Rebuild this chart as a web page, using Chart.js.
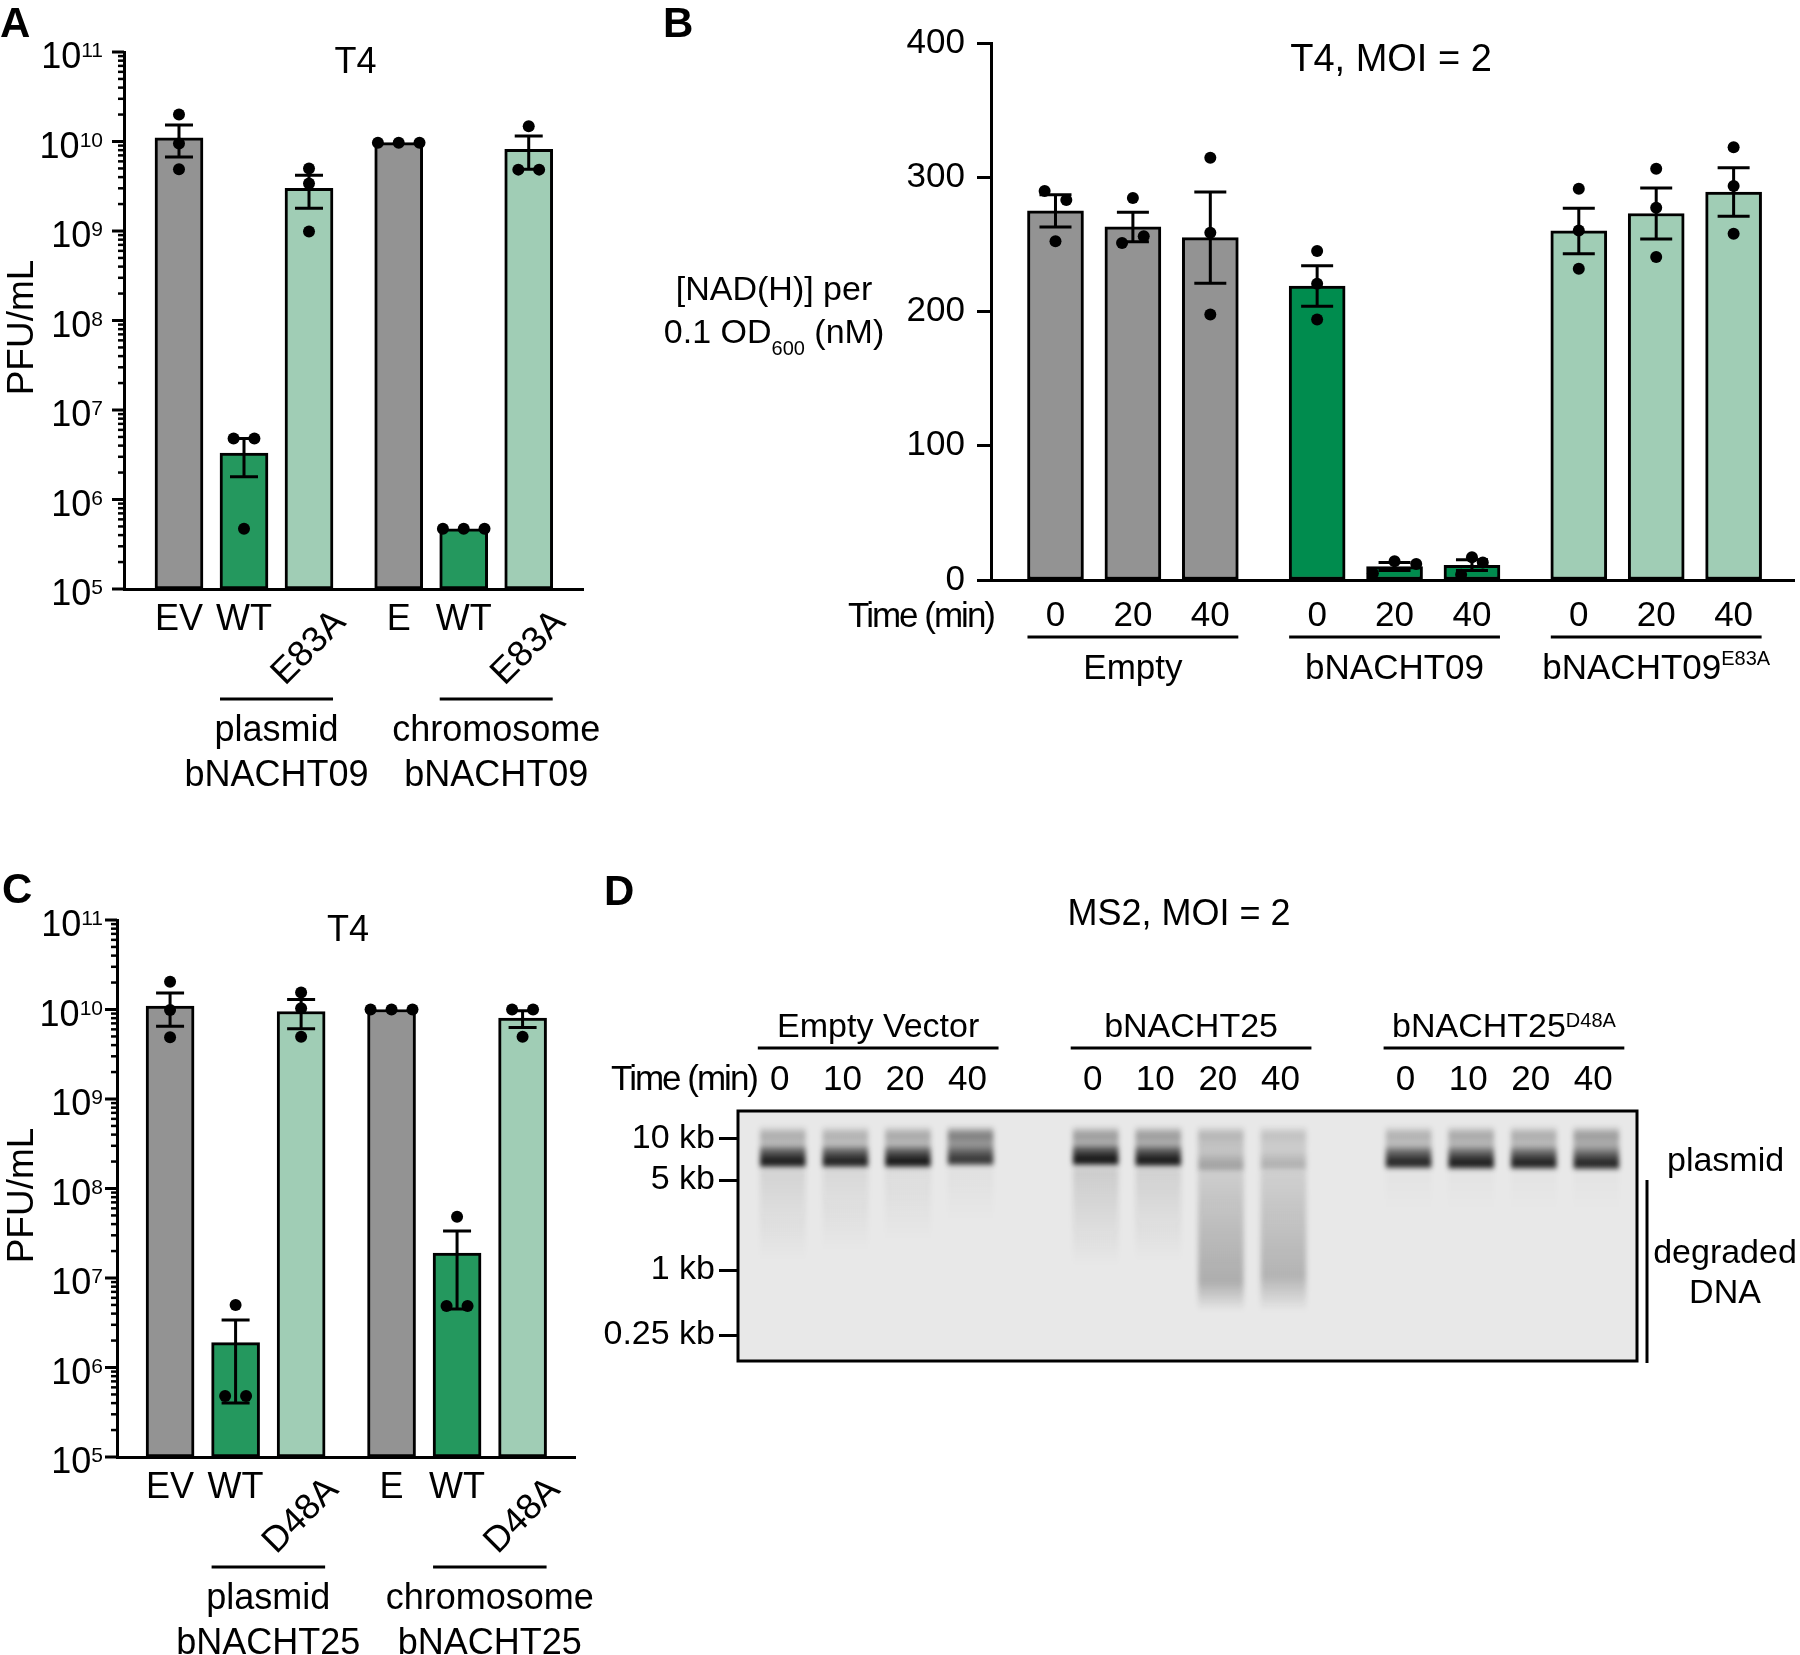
<!DOCTYPE html>
<html>
<head>
<meta charset="utf-8">
<script src="https://cdn.jsdelivr.net/npm/chart.js@4.4.0/dist/chart.umd.min.js"></script>
<style>
  html, body { margin: 0; padding: 0; background: #fff; }
  #fig { position: relative; width: 1800px; height: 1655px; overflow: hidden; background: #fff; }
  canvas { position: absolute; }
</style>
</head>
<body>
<div id="fig">
  <canvas id="panelA" width="640" height="800" style="left:0;top:0"></canvas>
  <canvas id="panelB" width="1160" height="700" style="left:640px;top:0"></canvas>
  <canvas id="panelC" width="620" height="785" style="left:0;top:870px"></canvas>
  <canvas id="panelD" width="1200" height="530" style="left:600px;top:870px"></canvas>
</div>
<script>
'use strict';

const FONT = '"Liberation Sans", Arial, Helvetica, sans-serif';
const GREY = '#939393';
const LIGHT_GREEN = '#a0cdb5';

// ===== PANEL A: T4 titers, bNACHT09 =====
const aLabels = ['EV', 'WT', 'E83A', 'E', 'WT', 'E83A'];
const aGroups = [['plasmid', 'bNACHT09'], ['chromosome', 'bNACHT09']];
const aMeans = [1.1e10, 3.3e6, 3.0e9, 9.7e9, 4.7e5, 8.2e9];
const aSem = [4.3e9, 1.5e6, 1.2e9, 0, 0, 3.3e9];
const aPoints = [
  [2.0e10, 9.5e9, 4.9e9],
  [4.8e6, 4.8e6, 4.7e5],
  [5.0e9, 3.4e9, 9.9e8],
  [9.7e9, 9.7e9, 9.7e9],
  [4.7e5, 4.7e5, 4.7e5],
  [1.48e10, 4.85e9, 4.85e9]
];

// ===== PANEL C: T4 titers, bNACHT25 =====
const cLabels = ['EV', 'WT', 'D48A', 'E', 'WT', 'D48A'];
const cGroups = [['plasmid', 'bNACHT25'], ['chromosome', 'bNACHT25']];
const cMeans = [1.09e10, 1.9e6, 9.5e9, 1.0e10, 1.9e7, 8.0e9];
const cSem = [4.4e9, 1.5e6, 3.4e9, 0, 1.45e7, 1.7e9];
const cPoints = [
  [2.04e10, 9.9e9, 4.9e9],
  [4.99e6, 4.8e5, 4.8e5],
  [1.55e10, 1.03e10, 4.97e9],
  [1.0e10, 1.0e10, 1.0e10],
  [4.84e7, 4.86e6, 4.86e6],
  [1.0e10, 1.0e10, 4.97e9]
];

const logExps = [5, 6, 7, 8, 9, 10, 11];

// ===== PANEL B: NAD(H) levels =====
const bGroups = ['Empty', 'bNACHT09', 'bNACHT09'];
const bGroupSup = ['', '', 'E83A'];
const bTimes = ['0', '20', '40'];
const bMeans = [275, 263, 255, 219, 10, 11, 260, 273, 289];
const bSem = [12, 11, 34, 15, 3, 4, 17, 19, 18];
const bPoints = [
  [289.7, 283.1, 252.4],
  [284.5, 251, 256],
  [314.5, 258.7, 197.7],
  [245, 220.7, 194],
  [5, 14, 12],
  [4, 17, 13],
  [291.4, 260.4, 231.9],
  [306.3, 277.3, 240.6],
  [322.4, 293.4, 258]
];
const bTicks = [0, 100, 200, 300, 400];

// ===== PANEL D: MS2 gel =====
const dGroups = ['Empty Vector', 'bNACHT25', 'bNACHT25'];
const dGroupSup = ['', '', 'D48A'];
const dTimes = ['0', '10', '20', '40'];
const ladderLabels = ['10 kb', '5 kb', '1 kb', '0.25 kb'];
const ladderMigration = [5.5, 13.8, 31.8, 44.8];
const upperBandMig = 4.9;
const mainBandMig = [10.2, 10.2, 10.2, 9.8, 9.8, 10.0, 11.0, 10.8, 10.4, 10.5, 10.5, 10.6];
const mainBandInt = [0.95, 0.92, 0.97, 0.82, 0.98, 0.96, 0.32, 0.25, 0.9, 0.94, 0.92, 0.9];
const upperBandInt = [0.28, 0.26, 0.3, 0.5, 0.36, 0.36, 0.24, 0.18, 0.26, 0.3, 0.28, 0.36];
const smearInt = [0.09, 0.07, 0.05, 0.03, 0.12, 0.1, 0.27, 0.24, 0.02, 0.02, 0.02, 0.02];
const smearPeakMig = [12, 12, 12, 12, 12, 12, 34, 33, 12, 12, 12, 12];
const smearEndMig = [30, 28, 26, 22, 31, 30, 40, 40, 20, 20, 20, 20];

// ---------- helpers ----------
function text(ctx, s, x, y, size, opt = {}) {
  ctx.save();
  ctx.font = `${opt.bold ? 'bold ' : ''}${size}px ${FONT}`;
  ctx.fillStyle = '#000';
  ctx.textAlign = opt.align || 'center';
  ctx.textBaseline = opt.baseline || 'alphabetic';
  if (opt.spacing) ctx.letterSpacing = opt.spacing + 'px';
  ctx.fillText(s, x, y);
  ctx.restore();
}

// parts: [{t, size, dy}]
function richText(ctx, parts, x, y, align) {
  ctx.save();
  const widths = parts.map(p => { ctx.font = `${p.size}px ${FONT}`; return ctx.measureText(p.t).width; });
  const total = widths.reduce((a, b) => a + b, 0);
  let cx = align === 'right' ? x - total : align === 'center' ? x - total / 2 : x;
  ctx.fillStyle = '#000';
  ctx.textAlign = 'left';
  ctx.textBaseline = 'alphabetic';
  parts.forEach((p, i) => {
    ctx.font = `${p.size}px ${FONT}`;
    ctx.fillText(p.t, cx, y + (p.dy || 0));
    cx += widths[i];
  });
  ctx.restore();
}

function line(ctx, x1, y1, x2, y2, w) {
  ctx.save();
  ctx.strokeStyle = '#000';
  ctx.lineWidth = w;
  ctx.beginPath();
  ctx.moveTo(x1, y1);
  ctx.lineTo(x2, y2);
  ctx.stroke();
  ctx.restore();
}

// bars in groups, with a wider gap between groups
function barPositions(n, per, gap) {
  return Array.from({ length: n }, (_, i) => Math.floor(i / per) * (per + gap) + (i % per));
}

// spread overlapping replicate dots sideways, like GraphPad does
function jitterOffsets(vals, near, step) {
  const off = vals.map(() => 0);
  const done = vals.map(() => false);
  vals.forEach((v, i) => {
    if (done[i]) return;
    const grp = [];
    vals.forEach((w, j) => { if (!done[j] && Math.abs(near(v, w)) < 1) grp.push(j); });
    grp.forEach((j, k) => { done[j] = true; off[j] = (k - (grp.length - 1) / 2) * step; });
  });
  return off;
}

function drawErrorBars(ctx, xs, ys, pos, means, sems, cap, floor) {
  ctx.save();
  ctx.strokeStyle = '#000';
  ctx.lineWidth = 3;
  means.forEach((m, i) => {
    const s = sems[i];
    if (!s) return;
    const px = xs.getPixelForValue(pos[i]);
    const yTop = ys.getPixelForValue(m + s);
    const yBot = ys.getPixelForValue(Math.max(m - s, floor));
    ctx.beginPath();
    ctx.moveTo(px, yTop); ctx.lineTo(px, yBot);
    ctx.moveTo(px - cap, yTop); ctx.lineTo(px + cap, yTop);
    ctx.moveTo(px - cap, yBot); ctx.lineTo(px + cap, yBot);
    ctx.stroke();
  });
  ctx.restore();
}

const baseOptions = {
  responsive: false,
  animation: false,
  devicePixelRatio: 1,
  events: [],
  plugins: { legend: { display: false }, tooltip: { enabled: false } }
};

// ===== LOG TITER PANELS (A, C) =====
function logPanel(canvasId, cfg) {
  const pos = barPositions(cfg.labels.length, 3, 0.38);
  const colors = cfg.labels.map((_, i) => [GREY, cfg.green, LIGHT_GREEN][i % 3]);
  const pts = [];
  cfg.points.forEach((vals, i) => {
    const off = jitterOffsets(vals, (a, b) => (Math.log10(a) - Math.log10(b)) / 0.1, 0.32);
    vals.forEach((v, k) => pts.push({ x: pos[i] + off[k], y: v }));
  });

  const deco = {
    id: 'deco',
    beforeDatasetDraw(chart, args) {
      if (args.index !== 1) return;
      drawErrorBars(chart.ctx, chart.scales.x, chart.scales.y, pos, cfg.means, cfg.sem, 14, 1e5);
    },
    afterDraw(chart) {
      const { ctx, chartArea: ca, scales: { x, y } } = chart;
      // log axis ticks with minor ticks
      logExps.forEach((e, k) => {
        const steps = k === logExps.length - 1 ? 1 : 9;
        for (let m = 1; m <= steps; m++) {
          const py = y.getPixelForValue(m * Math.pow(10, e));
          line(ctx, ca.left - (m === 1 ? 12 : 6), py, ca.left, py, m === 1 ? 3 : 2.5);
        }
        const py = y.getPixelForValue(Math.pow(10, e));
        richText(ctx, [{ t: '10', size: 36 }, { t: String(e), size: 21, dy: -11 }], ca.left - cfg.labelGap, py + 16, 'right');
      });
      // category labels
      cfg.labels.forEach((lab, i) => {
        const px = x.getPixelForValue(pos[i]);
        if (lab.length > 2) {
          ctx.save();
          ctx.translate(px, ca.bottom + 59);
          ctx.rotate(-Math.PI / 4);
          text(ctx, lab, 0, 0, 36, { baseline: 'middle' });
          ctx.restore();
        } else {
          text(ctx, lab, px, ca.bottom + 41, 36);
        }
      });
      // group brackets
      cfg.groups.forEach((g, gi) => {
        const x1 = x.getPixelForValue(pos[gi * 3 + 1]) - 24;
        const x2 = x.getPixelForValue(pos[gi * 3 + 2]) + 24;
        line(ctx, x1, ca.bottom + 110, x2, ca.bottom + 110, 3);
        text(ctx, g[0], (x1 + x2) / 2, ca.bottom + 152, 36);
        text(ctx, g[1], (x1 + x2) / 2, ca.bottom + 197, 36);
      });
      text(ctx, 'T4', (ca.left + ca.right) / 2 + 2, ca.top + 21, 36);
      ctx.save();
      ctx.translate(cfg.yTitleX, (ca.top + ca.bottom) / 2 + 7);
      ctx.rotate(-Math.PI / 2);
      text(ctx, 'PFU/mL', 0, 0, 37, { baseline: 'middle' });
      ctx.restore();
      text(ctx, cfg.letter, cfg.letterX, cfg.letterY, 42, { bold: true, align: 'left' });
    }
  };

  return new Chart(document.getElementById(canvasId), {
    type: 'bar',
    data: {
      datasets: [
        {
          type: 'bar',
          data: pos.map((p, i) => ({ x: p, y: cfg.means[i] })),
          backgroundColor: colors,
          borderColor: '#000',
          borderWidth: 3,
          borderSkipped: false,
          barThickness: 48,
          order: 2
        },
        {
          type: 'scatter',
          data: pts,
          pointRadius: 6,
          pointBackgroundColor: '#000',
          pointBorderWidth: 0,
          order: 1
        }
      ]
    },
    options: {
      ...baseOptions,
      layout: { padding: { top: cfg.top, right: cfg.right, left: 0, bottom: 0 } },
      scales: {
        x: {
          type: 'linear', min: cfg.xmin, max: cfg.xmax, offset: false,
          afterFit: s => { s.height = cfg.xh; },
          ticks: { display: false },
          grid: { display: true, drawOnChartArea: false, drawTicks: false },
          border: { display: true, width: 3, color: '#000' }
        },
        y: {
          type: 'logarithmic', min: 1e5, max: 1e11,
          afterFit: s => { s.width = cfg.left; },
          ticks: { display: false },
          grid: { display: true, drawOnChartArea: false, drawTicks: false },
          border: { display: true, width: 3, color: '#000' }
        }
      }
    },
    plugins: [deco]
  });
}

logPanel('panelA', {
  labels: aLabels, groups: aGroups, means: aMeans, sem: aSem, points: aPoints,
  green: '#24985e', letter: 'A', letterX: 0, letterY: 37,
  top: 52, right: 57, left: 124, xh: 211, xmin: -0.846, xmax: 6.215,
  labelGap: 21, yTitleX: 23
});

logPanel('panelC', {
  labels: cLabels, groups: cGroups, means: cMeans, sem: cSem, points: cPoints,
  green: '#24985e', letter: 'C', letterX: 2, letterY: 33,
  top: 50, right: 45, left: 117, xh: 198, xmin: -0.81, xmax: 6.18,
  labelGap: 14, yTitleX: 23
});

// ===== PANEL B =====
(function () {
  const pos = barPositions(bMeans.length, 3, 0.38);
  const colors = bMeans.map((_, i) => [GREY, '#008c4e', LIGHT_GREEN][Math.floor(i / 3)]);
  const pts = [];
  bPoints.forEach((vals, i) => {
    const off = jitterOffsets(vals, (a, b) => (a - b) / 10, 0.28);
    vals.forEach((v, k) => pts.push({ x: pos[i] + off[k], y: v }));
  });

  const deco = {
    id: 'decoB',
    beforeDatasetDraw(chart, args) {
      if (args.index !== 1) return;
      drawErrorBars(chart.ctx, chart.scales.x, chart.scales.y, pos, bMeans, bSem, 16, 0);
    },
    afterDraw(chart) {
      const { ctx, chartArea: ca, scales: { x } } = chart;
      text(ctx, 'B', 23, 37, 42, { bold: true, align: 'left' });
      text(ctx, 'T4, MOI = 2', 751, 71, 38);
      text(ctx, '[NAD(H)] per', 134, 300, 34);
      richText(ctx, [
        { t: '0.1 OD', size: 34 },
        { t: '600', size: 20, dy: 12 },
        { t: ' (nM)', size: 34 }
      ], 134, 343, 'center');
      text(ctx, 'Time (min)', ca.left + 3, 627, 35, { align: 'right', spacing: -2 });
      bGroups.forEach((g, gi) => {
        const x1 = x.getPixelForValue(pos[gi * 3]) - 28;
        const x2 = x.getPixelForValue(pos[gi * 3 + 2]) + 28;
        line(ctx, x1, 637, x2, 637, 3);
        const parts = [{ t: g, size: 35 }];
        if (bGroupSup[gi]) parts.push({ t: bGroupSup[gi], size: 20, dy: -14 });
        richText(ctx, parts, (x1 + x2) / 2, 679, 'center');
      });
    }
  };

  new Chart(document.getElementById('panelB'), {
    type: 'bar',
    data: {
      datasets: [
        {
          type: 'bar',
          data: pos.map((p, i) => ({ x: p, y: bMeans[i] })),
          backgroundColor: colors,
          borderColor: '#000',
          borderWidth: 3,
          borderSkipped: false,
          barThickness: 56,
          order: 2
        },
        {
          type: 'scatter',
          data: pts,
          pointRadius: 6,
          pointBackgroundColor: '#000',
          pointBorderWidth: 0,
          order: 1
        }
      ]
    },
    options: {
      ...baseOptions,
      layout: { padding: { top: 43, right: 0, left: 0, bottom: 0 } },
      scales: {
        x: {
          type: 'linear', min: -0.833, max: 9.54, offset: false,
          afterFit: s => { s.height = 120; },
          afterBuildTicks: s => { s.ticks = pos.map(v => ({ value: v })); },
          ticks: {
            callback: (v, i) => bTimes[i % 3],
            font: { family: FONT, size: 35 }, color: '#000', padding: 15,
            autoSkip: false, maxRotation: 0
          },
          grid: { display: true, drawOnChartArea: false, drawTicks: false },
          border: { display: true, width: 3, color: '#000' }
        },
        y: {
          type: 'linear', min: 0, max: 400,
          afterFit: s => { s.width = 351; },
          afterBuildTicks: s => { s.ticks = bTicks.map(v => ({ value: v })); },
          ticks: { font: { family: FONT, size: 35 }, color: '#000', padding: 12 },
          grid: { drawOnChartArea: false, tickLength: 14, tickWidth: 3, tickColor: '#000' },
          border: { display: true, width: 3, color: '#000' }
        }
      }
    },
    plugins: [deco]
  });
})();

// ===== PANEL D: gel =====
(function () {
  const lanePos = Array.from({ length: 12 }, (_, i) => Math.floor(i / 4) * 5 + (i % 4));

  function bandProfile(i) {
    const up = upperBandMig, m = mainBandMig[i], Im = mainBandInt[i], Iu = upperBandInt[i];
    return [
      [3.0, 0], [up - 0.8, Iu * 0.7], [up, Iu], [up + 1.0, Iu * 0.8],
      [up + 2.0, Iu * 0.75], [m - 2.8, 0.5 * Im], [m - 1.4, 0.8 * Im],
      [m - 0.2, Im], [m + 0.6, 0.95 * Im], [m + 1.3, 0]
    ];
  }
  function smearProfile(i) {
    const start = mainBandMig[i] + 1.2, I = smearInt[i];
    const peak = smearPeakMig[i], end = smearEndMig[i];
    if (peak <= start) return [[start, I], [end, 0]];
    return [[start, I * 0.45], [peak, I], [end, 0]];
  }
  function gradientFor(context, profile) {
    const chart = context.chart;
    if (!chart.chartArea) return 'rgba(0,0,0,0)';
    const y = chart.scales.y;
    const p = profile(context.dataIndex);
    const first = p[0][0], last = p[p.length - 1][0];
    const g = chart.ctx.createLinearGradient(0, y.getPixelForValue(first), 0, y.getPixelForValue(last));
    p.forEach(([mg, a]) => g.addColorStop((mg - first) / (last - first), `rgba(15,15,15,${a})`));
    return g;
  }

  const deco = {
    id: 'decoD',
    beforeDatasetsDraw(chart) {
      const { ctx, chartArea: ca } = chart;
      ctx.save();
      ctx.fillStyle = '#e8e8e8';
      ctx.fillRect(ca.left, ca.top, ca.right - ca.left, ca.bottom - ca.top);
      ctx.filter = 'blur(2.4px)';
    },
    afterDatasetsDraw(chart) {
      chart.ctx.restore();
    },
    afterDraw(chart) {
      const { ctx, chartArea: ca, scales: { x } } = chart;
      ctx.save();
      ctx.strokeStyle = '#000';
      ctx.lineWidth = 3;
      ctx.strokeRect(ca.left, ca.top, ca.right - ca.left, ca.bottom - ca.top);
      ctx.restore();
      text(ctx, 'D', 4, 35, 42, { bold: true, align: 'left' });
      text(ctx, 'MS2, MOI = 2', 579, 55, 36);
      dGroups.forEach((g, gi) => {
        const x1 = x.getPixelForValue(lanePos[gi * 4]) - 25;
        const x2 = x.getPixelForValue(lanePos[gi * 4 + 3]) + 28;
        line(ctx, x1, 178, x2, 178, 3);
        const parts = [{ t: g, size: 34 }];
        if (dGroupSup[gi]) parts.push({ t: dGroupSup[gi], size: 20, dy: -10 });
        richText(ctx, parts, (x1 + x2) / 2, 167, 'center');
      });
      text(ctx, 'Time (min)', 157, 220, 35, { align: 'right', spacing: -2 });
      lanePos.forEach((p, i) => {
        text(ctx, dTimes[i % 4], x.getPixelForValue(p) - 3, 220, 35);
      });
      text(ctx, 'plasmid', 1067, 301, 34, { align: 'left' });
      line(ctx, 1047, 310, 1047, 493, 3);
      text(ctx, 'degraded', 1125, 393, 34);
      text(ctx, 'DNA', 1125, 433, 34);
    }
  };

  new Chart(document.getElementById('panelD'), {
    type: 'bar',
    data: {
      datasets: [
        {
          type: 'bar',
          data: lanePos.map((p, i) => ({ x: p, y: [smearProfile(i)[0][0], smearEndMig[i]] })),
          backgroundColor: ctx => gradientFor(ctx, smearProfile),
          borderWidth: 0,
          barThickness: 45,
          grouped: false
        },
        {
          type: 'bar',
          data: lanePos.map((p, i) => ({ x: p, y: [3.0, mainBandMig[i] + 1.3] })),
          backgroundColor: ctx => gradientFor(ctx, bandProfile),
          borderWidth: 0,
          barThickness: 45,
          grouped: false
        }
      ]
    },
    options: {
      ...baseOptions,
      layout: { padding: { top: 241, right: 163, left: 0, bottom: 39 } },
      scales: {
        x: { type: 'linear', display: false, min: -0.716, max: 13.65, offset: false },
        y: {
          type: 'linear', reverse: true, min: 0, max: 50,
          afterFit: s => { s.width = 138; },
          afterBuildTicks: s => { s.ticks = ladderMigration.map(v => ({ value: v })); },
          ticks: {
            callback: (v, i) => ladderLabels[i],
            font: { family: FONT, size: 34 }, color: '#000', padding: 4
          },
          grid: { drawOnChartArea: false, tickLength: 19, tickWidth: 3, tickColor: '#000' },
          border: { display: false }
        }
      }
    },
    plugins: [deco]
  });
})();
</script>
</body>
</html>
